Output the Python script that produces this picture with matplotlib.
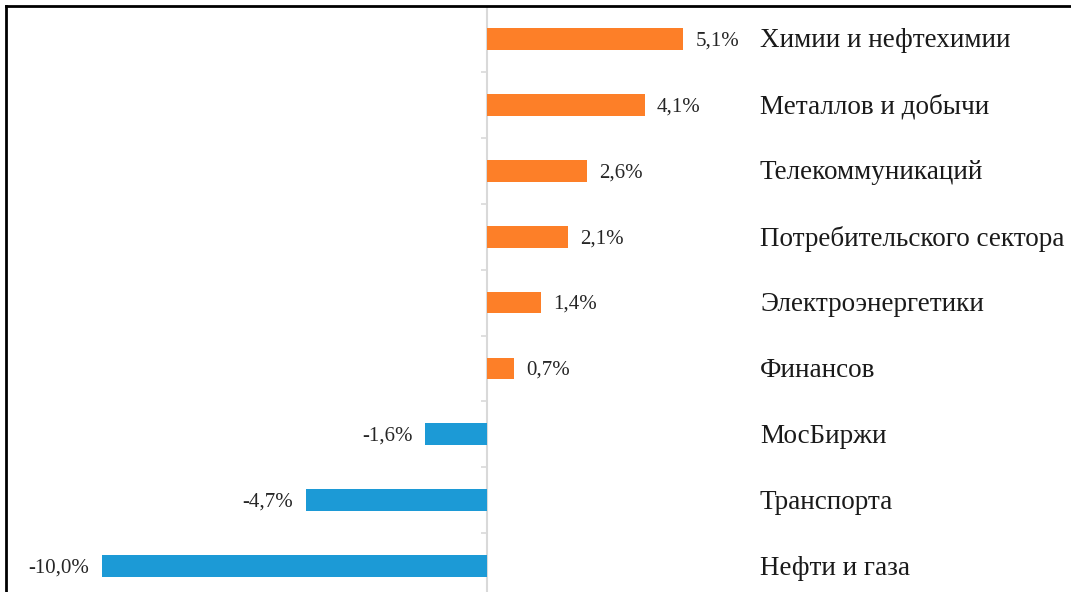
import matplotlib.pyplot as plt

sectors = ['Химии и нефтехимии', 'Металлов и добычи', 'Телекоммуникаций',
           'Потребительского сектора', 'Электроэнергетики', 'Финансов',
           'МосБиржи', 'Транспорта', 'Нефти и газа']
changes = [5.1, 4.1, 2.6, 2.1, 1.4, 0.7, -1.6, -4.7, -10.0]

orange = '#FD7F28'
blue = '#1C9AD6'

W, H = 1071, 592
fig = plt.figure(figsize=(W / 100, H / 100), dpi=100)

# axes from the frame line (x=6, y=6) to the right / bottom edges
ax = fig.add_axes([6 / W, 0, 1 - 6 / W, 1 - 6 / H])

px = 38.5  # pixels per percent
zero_x = 487
ax.set_xlim((6 - zero_x) / px, (W - zero_x) / px)
row = 65.9
ax.set_ylim(-0.5 + (H - 6) / row, -0.5)

ypos = list(range(len(sectors)))
colors = [orange if v >= 0 else blue for v in changes]
ax.barh(ypos, changes, height=0.33, color=colors, zorder=3)

# value axis line and small ticks between categories
ax.axvline(0, color='#D9D9D9', lw=1.5, zorder=2)
ax.hlines([i + 0.5 for i in range(len(sectors))], -6 / px, 0,
          color='#D9D9D9', lw=1.2, zorder=2)

for y, v, name in zip(ypos, changes, sectors):
    lbl = f'{v:.1f}%'.replace('.', ',')
    if v >= 0:
        ax.text(v + 12 / px, y + 0.03, lbl, ha='left', va='center',
                fontsize=15, family='Liberation Serif', color='#262626')
    else:
        ax.text(v - 13 / px, y + 0.03, lbl, ha='right', va='center',
                fontsize=15, family='Liberation Serif', color='#262626')
    ax.text((760 - zero_x) / px, y + 0.03, name, ha='left', va='center',
            fontsize=19.5, family='Liberation Serif', color='#1a1a1a')

ax.set_xticks([])
ax.set_yticks([])
for side in ['right', 'bottom']:
    ax.spines[side].set_visible(False)
for side in ['left', 'top']:
    ax.spines[side].set_linewidth(2)
    ax.spines[side].set_color('black')

fig.savefig('out.png', dpi=100)
